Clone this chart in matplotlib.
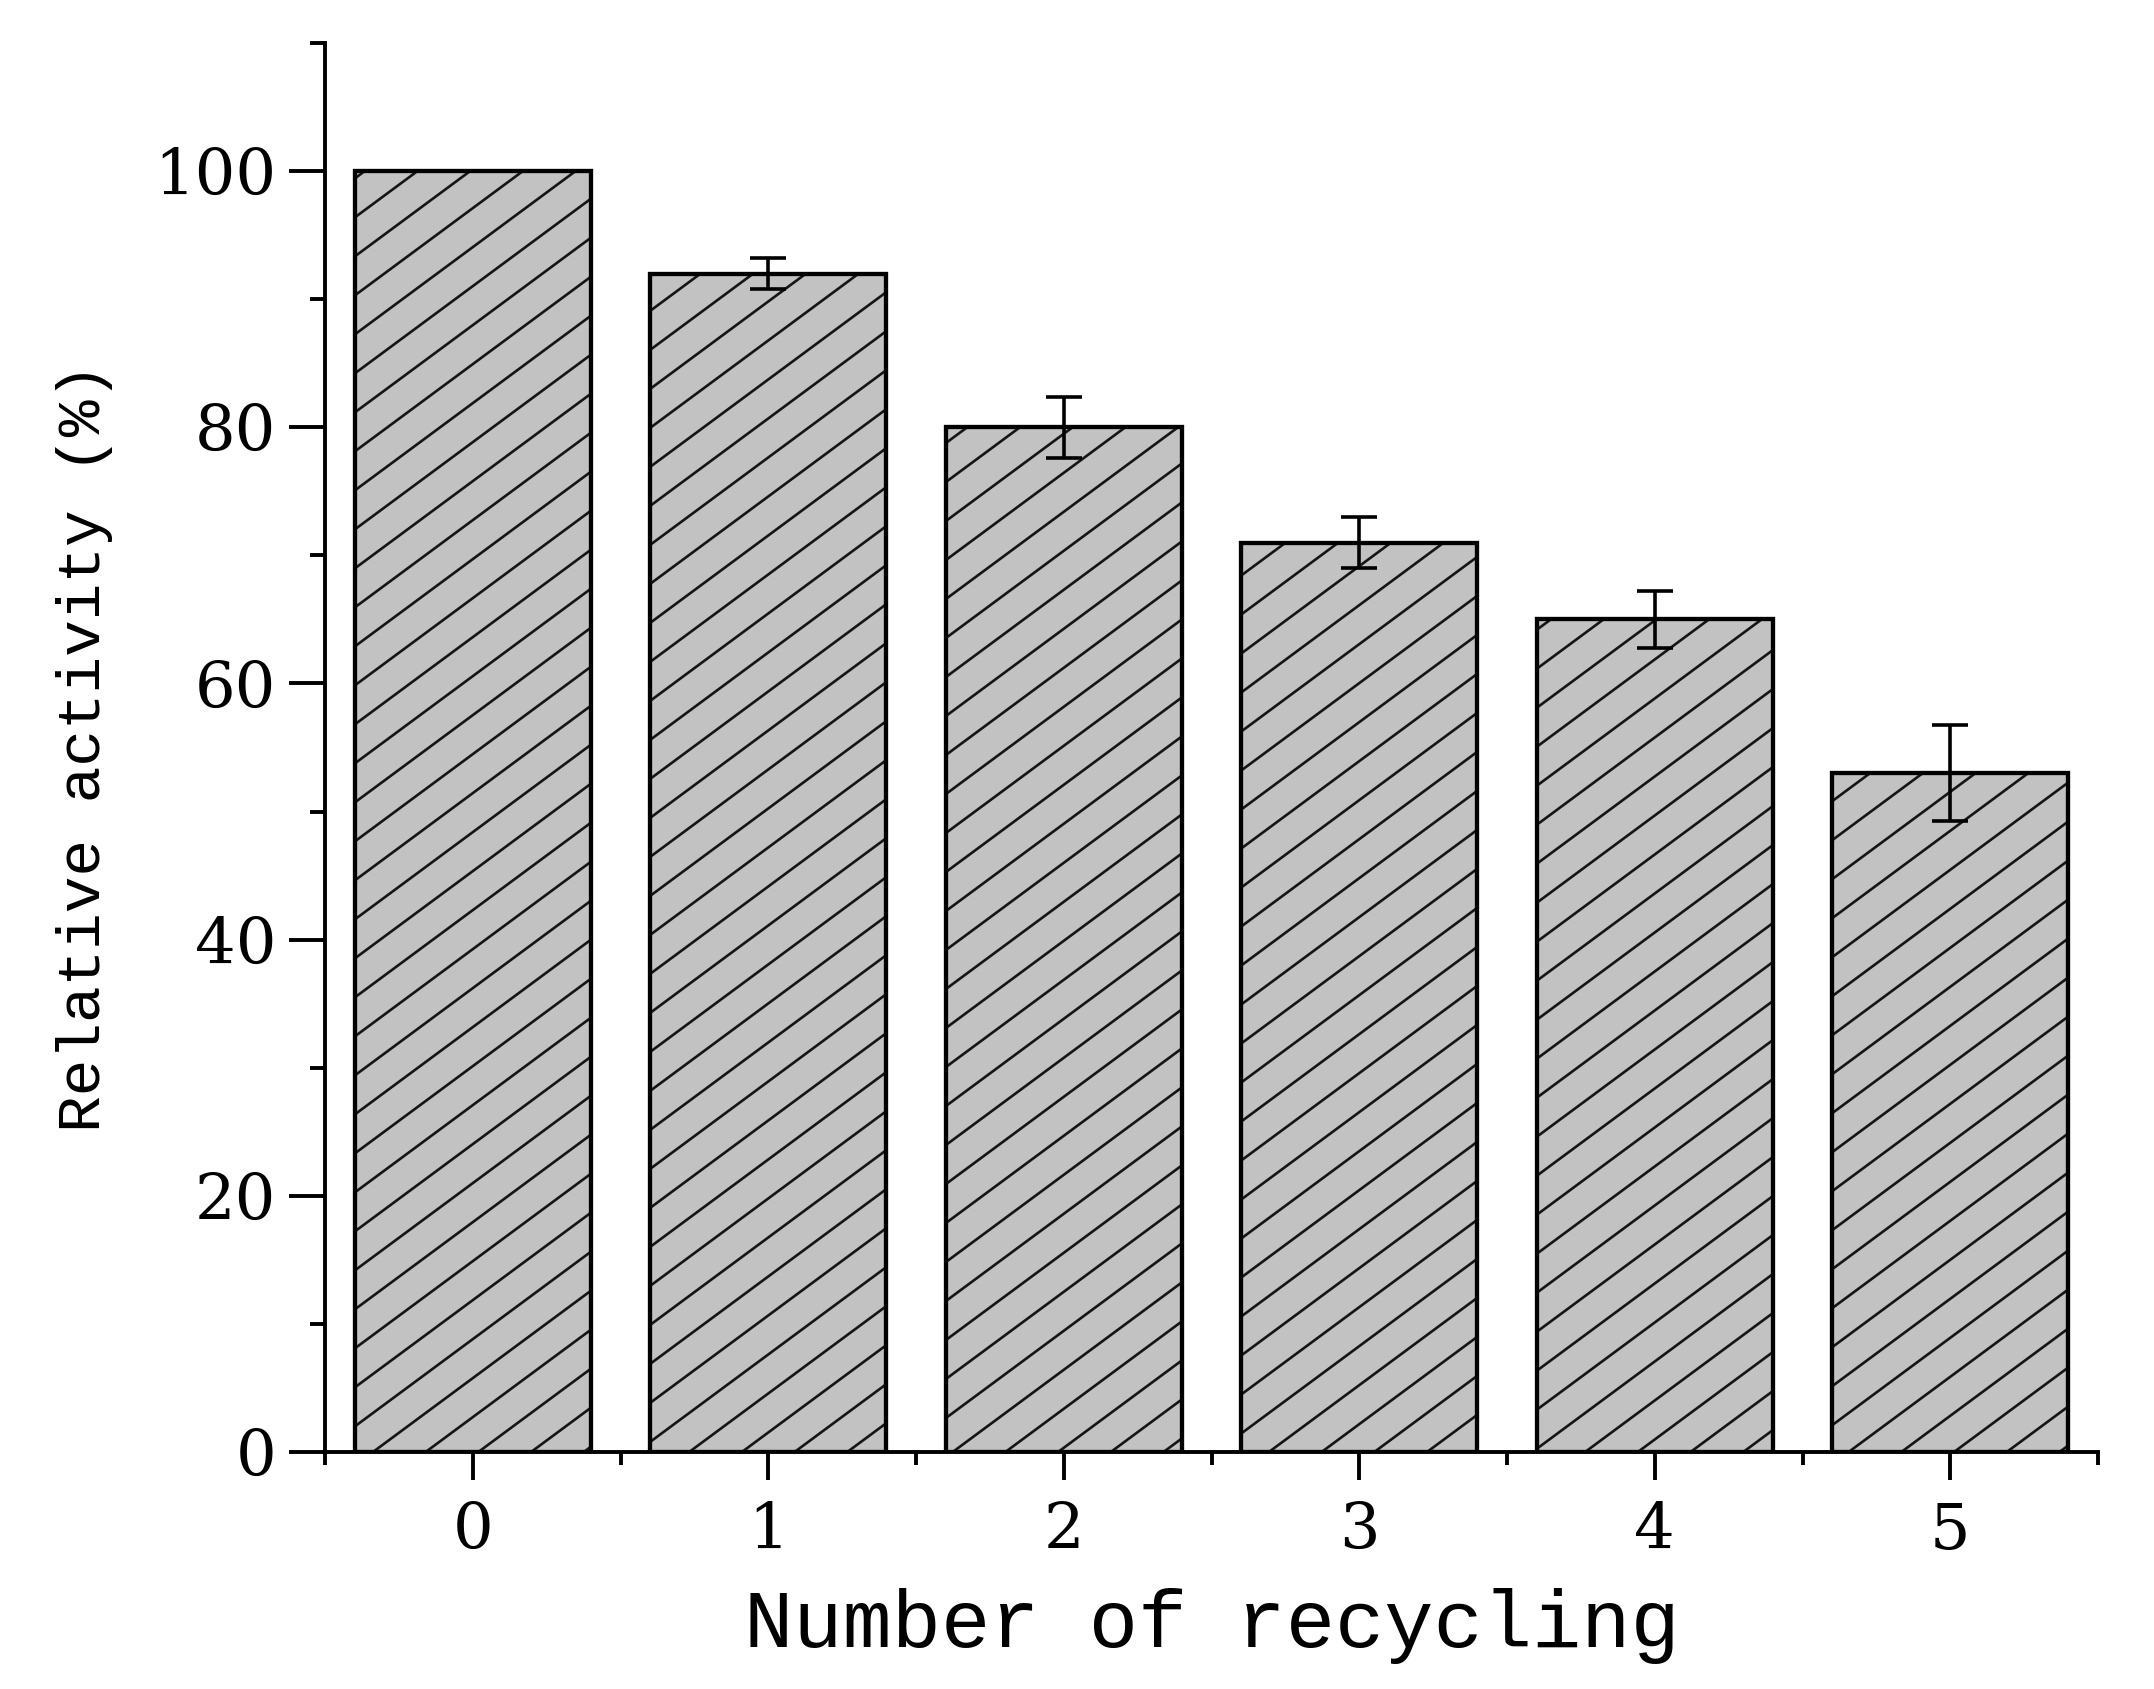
import numpy as np
import matplotlib
matplotlib.use("Agg")
import matplotlib.pyplot as plt
from matplotlib.collections import LineCollection
from matplotlib.transforms import IdentityTransform

# ---- data ----
cycles = ["0", "1", "2", "3", "4", "5"]
activity = [100, 92, 80, 71, 65, 53]
errors = [None, 1.2, 2.4, 2.0, 2.25, 3.75]
yticks = [0, 20, 40, 60, 80, 100]

W, H = 2154, 1689
DPI = 100
fig = plt.figure(figsize=(W / DPI, H / DPI), dpi=DPI)
ax = fig.add_axes([325 / W, 1 - 1452 / H, (2098 - 325) / W, (1452 - 43) / H])

x = np.arange(len(cycles))
bars = ax.bar(x, activity, width=0.8, color="#c2c2c2", edgecolor="black",
              linewidth=3.0, zorder=3)

ex = [xi for xi, e in zip(x, errors) if e is not None]
ey = [a for a, e in zip(activity, errors) if e is not None]
ee = [e for e in errors if e is not None]
ax.errorbar(ex, ey, yerr=ee, fmt="none", ecolor="black", elinewidth=2.6,
            capsize=13, capthick=2.6, zorder=6)

ax.set_xlim(-0.5, 5.5)
ax.set_ylim(0, 110)

# custom shallow hatch texture, in pixel space, clipped analytically to each bar
slope = 0.74
gap = 39.0
for rect in bars:
    (px0, py0), (px1, py1) = ax.transData.transform(
        [(rect.get_x(), rect.get_y()),
         (rect.get_x() + rect.get_width(), rect.get_y() + rect.get_height())])
    cmin = py0 - slope * px1
    cmax = py1 - slope * px0
    segs = []
    for k in np.arange(np.floor(cmin / gap), np.ceil(cmax / gap) + 1):
        c = k * gap
        xa = max(px0, (py0 - c) / slope)
        xb = min(px1, (py1 - c) / slope)
        if xb > xa:
            segs.append([(xa, slope * xa + c), (xb, slope * xb + c)])
    lc = LineCollection(segs, colors="#151515", linewidths=1.9,
                        transform=IdentityTransform(), zorder=4)
    ax.add_collection(lc, autolim=False)

# bar outlines on top of hatch
for rect in bars:
    r2 = plt.Rectangle((rect.get_x(), rect.get_y()), rect.get_width(), rect.get_height(),
                       fill=False, edgecolor="black", linewidth=3.0, zorder=5)
    ax.add_patch(r2)

for s in ["top", "right"]:
    ax.spines[s].set_visible(False)
for s in ["left", "bottom"]:
    ax.spines[s].set_linewidth(2.8)

ax.set_xticks(x)
ax.set_xticklabels(cycles)
ax.set_xticks(np.arange(-0.5, 6, 1), minor=True)
ax.set_yticks(yticks)
ax.set_yticks(np.arange(10, 111, 20), minor=True)

ax.tick_params(axis="y", which="major", length=26, width=2.8, direction="out", pad=9)
ax.tick_params(axis="y", which="minor", length=11, width=2.8, direction="out")
ax.tick_params(axis="x", which="major", length=20, width=2.8, direction="out", pad=15)
ax.tick_params(axis="x", which="minor", length=9, width=2.8, direction="out")

for lab in ax.get_xticklabels() + ax.get_yticklabels():
    lab.set_fontfamily("DejaVu Serif")
    lab.set_fontsize(46)

ax.set_xlabel("Number of recycling", fontfamily="Liberation Mono", fontsize=59,
              labelpad=19)
ax.set_ylabel("Relative activity (%)", fontfamily="Liberation Mono", fontsize=44,
              labelpad=30)

fig.savefig("out.png", dpi=DPI)
